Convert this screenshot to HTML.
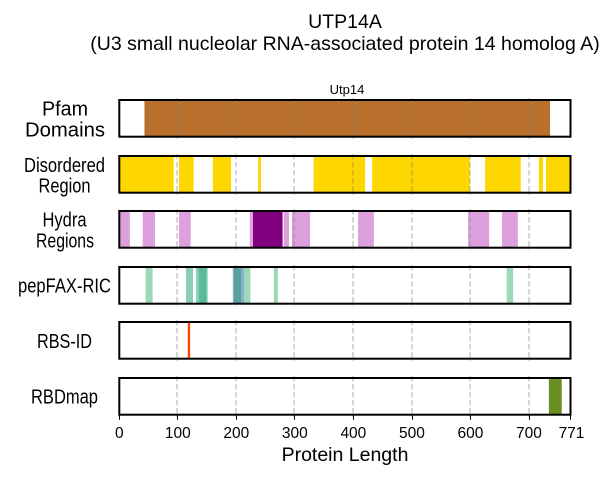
<!DOCTYPE html>
<html>
<head>
<meta charset="utf-8">
<style>
html,body{margin:0;padding:0;background:#fff;}
svg{display:block;font-family:"Liberation Sans",Arial,sans-serif;}
</style>
</head>
<body>
<svg id="chart" width="600" height="480" viewBox="0 0 600 480" xmlns="http://www.w3.org/2000/svg">
<rect width="600" height="480" fill="#fff"/>
<text x="345" y="28" font-size="19.5" text-anchor="middle" fill="#000">UTP14A</text>
<text x="345" y="50" font-size="19.5" text-anchor="middle" fill="#000">(U3 small nucleolar RNA-associated protein 14 homolog A)</text>
<text x="347" y="94" font-size="13" text-anchor="middle" fill="#000">Utp14</text>
<g id="marks"></g>
<g id="grid"></g>
<g id="frames"></g>
<g id="ticks"></g>
<g fill="#000" text-anchor="middle">
<text x="65" y="115.5" font-size="20" textLength="46" lengthAdjust="spacingAndGlyphs">Pfam</text>
<text x="65" y="136.5" font-size="20" textLength="80" lengthAdjust="spacingAndGlyphs">Domains</text>
<text x="64.5" y="172" font-size="20" textLength="81" lengthAdjust="spacingAndGlyphs">Disordered</text>
<text x="64.5" y="192.5" font-size="20" textLength="52" lengthAdjust="spacingAndGlyphs">Region</text>
<text x="64.5" y="226.5" font-size="20" textLength="44" lengthAdjust="spacingAndGlyphs">Hydra</text>
<text x="65" y="247.5" font-size="20" textLength="58" lengthAdjust="spacingAndGlyphs">Regions</text>
<text x="64.5" y="292.5" font-size="20" textLength="93" lengthAdjust="spacingAndGlyphs">pepFAX-RIC</text>
<text x="64.5" y="348" font-size="20" textLength="55" lengthAdjust="spacingAndGlyphs">RBS-ID</text>
<text x="64.5" y="403.5" font-size="20" textLength="67" lengthAdjust="spacingAndGlyphs">RBDmap</text>
</g>
<text x="345" y="461" font-size="19.5" text-anchor="middle" fill="#000">Protein Length</text>
</svg>
<script>
var proteinLength = 771;
var tickValues = [0, 100, 200, 300, 400, 500, 600, 700, 771];
var pfamRegions = [[43, 736]];
var disorderedRegions = [[0, 93], [102, 127], [160, 191], [237, 242], [332, 420], [432, 599], [625, 686], [717, 724], [729, 771]];
var hydraLightRegions = [[0, 18], [40, 61], [102, 122], [223, 227], [281, 290], [295, 326], [408, 435], [596, 632], [654, 681]];
var hydraDarkRegions = [[228, 279]];
var pepfaxGreenRegions = [[45, 57], [136, 149], [194, 224], [264, 271], [662, 673]];
var pepfaxBlueRegions = [[194, 213]];
var pepfaxTealRegions = [[114, 126], [131, 151], [196, 208]];
var rbsIdRegions = [[117, 121]];
var rbdmapRegions = [[734, 756]];

var SVG_NS = 'http://www.w3.org/2000/svg';
var plotLeft = 119.3;
var plotRight = 570.5;
var trackTops = [100, 156, 211, 267, 322, 378];
var trackHeight = 36.7;

function xScale(v) {
  return plotLeft + (v / proteinLength) * (plotRight - plotLeft);
}

function snapX(v) {
  return Math.round(xScale(v) - 0.4);
}

function make(tag, attrs, parent) {
  var el = document.createElementNS(SVG_NS, tag);
  for (var k in attrs) { el.setAttribute(k, attrs[k]); }
  parent.appendChild(el);
  return el;
}

function drawRegions(regions, trackIndex, color, opacity, groupName) {
  var group = make('g', {}, document.getElementById('marks'));
  
  
  regions.forEach(function (r) {
    var rect = make('rect', {
      x: xScale(r[0]),
      y: trackTops[trackIndex],
      width: xScale(r[1]) - xScale(r[0]),
      height: trackHeight,
      fill: color,
      'fill-opacity': opacity
    }, group);
    
    
  });
}

drawRegions(pfamRegions, 0, '#b8702c', 1, 'pfam-regions');
drawRegions(disorderedRegions, 1, '#ffd700', 1, 'disordered-regions');
drawRegions(hydraLightRegions, 2, '#dda0dd', 1, 'hydra-light-regions');
drawRegions(hydraDarkRegions, 2, '#800080', 1, 'hydra-dark-regions');
drawRegions(pepfaxGreenRegions, 3, '#3cb371', 0.5, 'pepfax-green-regions');
drawRegions(pepfaxBlueRegions, 3, '#7d87d8', 0.5, 'pepfax-blue-regions');
drawRegions(pepfaxTealRegions, 3, '#179b7b', 0.5, 'pepfax-teal-regions');
drawRegions(rbsIdRegions, 4, '#ff4500', 1, 'rbs-id-regions');
drawRegions(rbdmapRegions, 5, '#6b8e23', 1, 'rbdmap-regions');

var gridGroup = document.getElementById('grid');
var frameGroup = document.getElementById('frames');
var tickGroup = document.getElementById('ticks');

tickValues.slice(1, 8).forEach(function (v) {
  trackTops.forEach(function (top) {
    var line = make('line', {
      x1: snapX(v), x2: snapX(v),
      y1: top - 2, y2: top + trackHeight + 2,
      stroke: '#808080',
      'stroke-opacity': 0.32,
      'stroke-width': 2,
      'stroke-dasharray': '5.5 2.5'
    }, gridGroup);
    
    
  });
});

trackTops.forEach(function (top) {
  var frame = make('rect', {
    x: plotLeft, y: top,
    width: plotRight - plotLeft, height: trackHeight,
    fill: 'none', stroke: '#000', 'stroke-width': 2
  }, frameGroup);
  
  
});

tickValues.forEach(function (v) {
  var baseY = trackTops[5] + trackHeight;
  var tick = make('line', {
    x1: snapX(v) + 0.5, x2: snapX(v) + 0.5,
    y1: baseY, y2: baseY + 5,
    stroke: '#000', 'stroke-width': 1
  }, tickGroup);
  
  
  var label = make('text', {
    x: xScale(v) + (v === 771 ? 1 : 0), y: 438,
    'font-size': 15.5,
    'text-anchor': 'middle',
    fill: '#000'
  }, tickGroup);
  
  
  label.textContent = String(v);
});
</script>
</body>
</html>
